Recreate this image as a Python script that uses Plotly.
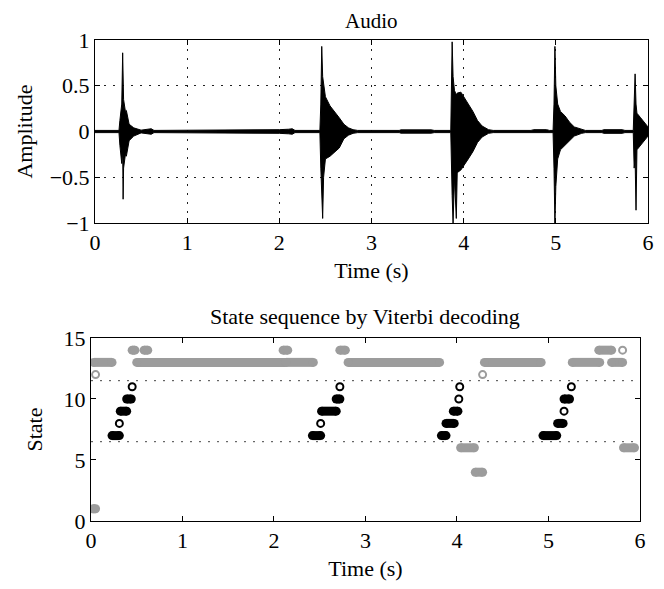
import plotly.graph_objects as go

audio_t = [0.0, 0.26, 0.27, 0.29, 0.30, 0.305, 0.31, 0.33, 0.34, 0.37, 0.42, 0.5, 0.58, 0.61, 0.64,
           1.95, 2.0, 2.1, 2.14, 2.17, 2.44,
           2.45, 2.46, 2.47, 2.48, 2.50, 2.55, 2.6, 2.65, 2.7, 2.75, 2.8, 2.85,
           3.3, 3.32, 3.65, 3.68, 3.86,
           3.865, 3.875, 3.885, 3.90, 3.92, 3.93, 3.97, 4.0, 4.05, 4.1, 4.15, 4.2, 4.27, 4.32,
           4.73, 4.76, 4.9, 4.93, 4.97,
           4.98, 4.99, 5.0, 5.02, 5.05, 5.1, 5.15, 5.2, 5.28, 5.32,
           5.5, 5.52, 5.72, 5.75, 5.84,
           5.85, 5.86, 5.87, 5.88, 5.92, 5.96, 6.0]
audio_hi = [0.012, 0.012, 0.12, 0.3, 0.86, 0.4, 0.35, 0.22, 0.23, 0.08, 0.04, 0.015, 0.02, 0.03, 0.012,
            0.012, 0.02, 0.025, 0.03, 0.012, 0.012,
            0.3, 0.93, 0.6, 0.5, 0.38, 0.28, 0.22, 0.15, 0.08, 0.04, 0.02, 0.012,
            0.012, 0.018, 0.018, 0.012, 0.012,
            0.4, 0.98, 0.6, 0.45, 0.4, 0.42, 0.43, 0.38, 0.3, 0.22, 0.12, 0.06, 0.02, 0.012,
            0.012, 0.02, 0.02, 0.012, 0.012,
            0.3, 0.93, 0.5, 0.3, 0.22, 0.17, 0.1, 0.05, 0.02, 0.012,
            0.012, 0.02, 0.02, 0.012, 0.012,
            0.3, 0.63, 0.3, 0.2, 0.15, 0.1, 0.05]
audio_lo = [-0.012, -0.012, -0.15, -0.35, -0.2, -0.74, -0.4, -0.25, -0.27, -0.1, -0.05, -0.015, -0.02, -0.03, -0.012,
            -0.012, -0.02, -0.025, -0.03, -0.012, -0.012,
            -0.4, -0.6, -0.95, -0.5, -0.3, -0.27, -0.22, -0.18, -0.08, -0.04, -0.02, -0.012,
            -0.012, -0.018, -0.018, -0.012, -0.012,
            -0.4, -0.7, -1.0, -0.5, -0.95, -0.45, -0.42, -0.38, -0.3, -0.22, -0.12, -0.06, -0.02, -0.012,
            -0.012, -0.02, -0.02, -0.012, -0.012,
            -0.4, -1.0, -0.6, -0.3, -0.2, -0.15, -0.1, -0.05, -0.02, -0.012,
            -0.012, -0.02, -0.02, -0.012, -0.012,
            -0.4, -0.3, -0.86, -0.2, -0.15, -0.1, -0.05]

# Viterbi state runs: state, start time, end time (s)
run_state = [1, 13, 12, 14, 13, 13, 14, 14, 14, 13, 6, 4, 12, 13, 13, 14, 13, 14, 6,
             7, 8, 9, 10, 11,
             7, 8, 9, 10, 11,
             7, 8, 9, 10, 11,
             7, 8, 9, 10, 11]
run_start = [0.02, 0.03, 0.05, 0.45, 0.50, 2.13, 0.58, 2.10, 2.72, 2.81, 4.04, 4.20, 4.28, 4.30, 5.26, 5.55, 5.69, 5.81, 5.82,
             0.23, 0.31, 0.32, 0.39, 0.45,
             2.42, 2.51, 2.52, 2.68, 2.72,
             3.83, 3.88, 3.96, 4.02, 4.03,
             4.94, 5.10, 5.17, 5.17, 5.25]
run_end = [0.05, 0.23, 0.05, 0.48, 2.12, 2.43, 0.62, 2.15, 2.78, 3.81, 4.19, 4.28, 4.28, 4.92, 5.56, 5.69, 5.81, 5.81, 5.94,
           0.31, 0.31, 0.39, 0.44, 0.45,
           2.51, 2.51, 2.68, 2.72, 2.72,
           3.88, 3.97, 4.01, 4.02, 4.03,
           5.09, 5.16, 5.17, 5.23, 5.25]

GRAY = "#9c9c9c"
FONT = "Liberation Serif"
FS = 22

fig = go.Figure()

# audio envelope
fig.add_trace(go.Scatter(x=audio_t, y=audio_lo, mode="lines", line=dict(color="black", width=1),
                         xaxis="x", yaxis="y", hoverinfo="skip", showlegend=False))
fig.add_trace(go.Scatter(x=audio_t, y=audio_hi, mode="lines", line=dict(color="black", width=1),
                         fill="tonexty", fillcolor="black",
                         xaxis="x", yaxis="y", hoverinfo="skip", showlegend=False))

# state sequence: gray first, black on top
for is_black, color in [(False, GRAY), (True, "black")]:
    bx, by, cx, cy, ox, oy = [], [], [], [], [], []
    for s, a, b in zip(run_state, run_start, run_end):
        if (7 <= s <= 11) != is_black:
            continue
        if a == b:
            ox.append(a)
            oy.append(s)
        else:
            bx += [a, b, None]
            by += [s, s, None]
            cx += [a, b]
            cy += [s, s]
    fig.add_trace(go.Scatter(x=bx, y=by, mode="lines", line=dict(color=color, width=9),
                             xaxis="x2", yaxis="y2", showlegend=False))
    fig.add_trace(go.Scatter(x=cx, y=cy, mode="markers",
                             marker=dict(symbol="circle", size=9, color=color, line=dict(width=0)),
                             xaxis="x2", yaxis="y2", showlegend=False))
    fig.add_trace(go.Scatter(x=ox, y=oy, mode="markers",
                             marker=dict(symbol="circle-open", size=7, color=color, line=dict(width=2, color=color)),
                             xaxis="x2", yaxis="y2", showlegend=False))

for yv in [6.5, 11.5]:
    fig.add_shape(type="line", xref="x2", yref="y2", x0=0, x1=6, y0=yv, y1=yv,
                  line=dict(color="#444", width=1, dash="2px,7px"))

axis_common = dict(showline=True, linecolor="black", linewidth=1, mirror="ticks",
                   ticks="inside", ticklen=5, tickcolor="black", zeroline=False,
                   tickfont=dict(family=FONT, size=FS, color="black"))

# the page body has an 8px margin, so the figure is 8px smaller and the margins shifted
fig.update_layout(
    width=656, height=581,
    margin=dict(l=83, r=10, t=32, b=68),
    paper_bgcolor="white", plot_bgcolor="white",
    font=dict(family=FONT, size=FS, color="black"),
    xaxis=dict(domain=[0.0072, 1], anchor="y", range=[0, 6], tickvals=[0, 1, 2, 3, 4, 5, 6],
               showgrid=True, gridcolor="#222", gridwidth=1, griddash="2px,7px",
               title=dict(text="Time (s)", font=dict(family=FONT, size=FS), standoff=8),
               **axis_common),
    yaxis=dict(domain=[0.6195, 1], anchor="x", range=[-1, 1],
               tickvals=[-1, -0.5, 0, 0.5, 1], ticktext=["\u22121", "\u22120.5", "0", "0.5", "1"],
               showgrid=True, gridcolor="#222", gridwidth=1, griddash="2px,7px",
               title=dict(text="Amplitude", font=dict(family=FONT, size=FS), standoff=10),
               **axis_common),
    xaxis2=dict(domain=[0, 0.9856], anchor="y2", range=[0, 6], tickvals=[0, 1, 2, 3, 4, 5, 6],
                showgrid=False,
                title=dict(text="Time (s)", font=dict(family=FONT, size=FS), standoff=8),
                **axis_common),
    yaxis2=dict(domain=[0, 0.3805], anchor="x2", range=[0, 15], tickvals=[0, 5, 10, 15],
                showgrid=False,
                title=dict(text="State", font=dict(family=FONT, size=FS), standoff=14),
                **axis_common),
    annotations=[
        dict(text="Audio", x=0.5036, y=1.040, xref="paper", yref="paper",
             xanchor="center", yanchor="middle", showarrow=False,
             font=dict(family=FONT, size=21)),
        dict(text="State sequence by Viterbi decoding", x=0.4928, y=0.425, xref="paper", yref="paper",
             xanchor="center", yanchor="middle", showarrow=False,
             font=dict(family=FONT, size=FS)),
    ],
)

fig.write_html("out.html")
